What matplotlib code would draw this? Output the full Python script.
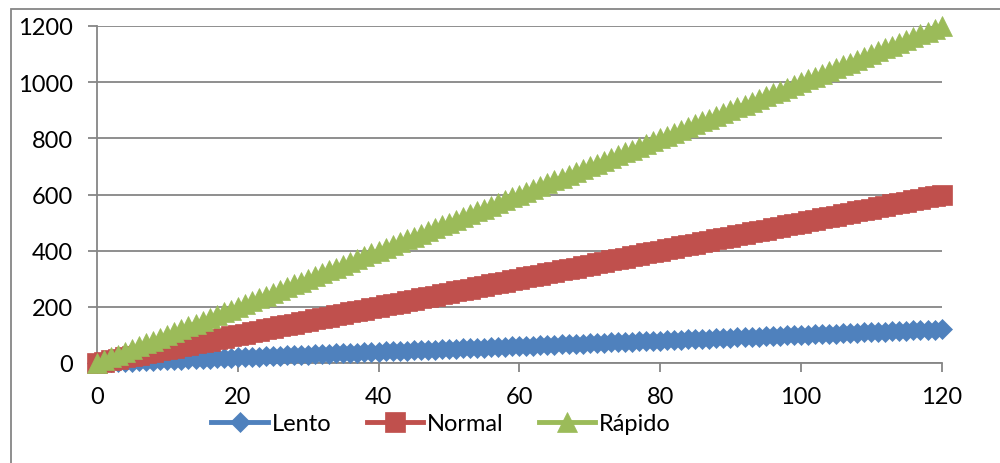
import matplotlib
matplotlib.use("Agg")
import matplotlib.pyplot as plt
from matplotlib.patches import Rectangle

plt.rcParams['font.family'] = ['Lato', 'DejaVu Sans']

minutos = [0,1,2,3,4,5,6,7,8,9,10,11,12,13,14,15,16,17,18,19,20,21,22,23,24,25,26,27,28,29,
           30,31,32,33,34,35,36,37,38,39,40,41,42,43,44,45,46,47,48,49,50,51,52,53,54,55,56,57,58,59,
           60,61,62,63,64,65,66,67,68,69,70,71,72,73,74,75,76,77,78,79,80,81,82,83,84,85,86,87,88,89,
           90,91,92,93,94,95,96,97,98,99,100,101,102,103,104,105,106,107,108,109,110,111,112,113,114,
           115,116,117,118,119,120]
lento = [0,1,2,3,4,5,6,7,8,9,10,11,12,13,14,15,16,17,18,19,20,21,22,23,24,25,26,27,28,29,
         30,31,32,33,34,35,36,37,38,39,40,41,42,43,44,45,46,47,48,49,50,51,52,53,54,55,56,57,58,59,
         60,61,62,63,64,65,66,67,68,69,70,71,72,73,74,75,76,77,78,79,80,81,82,83,84,85,86,87,88,89,
         90,91,92,93,94,95,96,97,98,99,100,101,102,103,104,105,106,107,108,109,110,111,112,113,114,
         115,116,117,118,119,120]
normal = [0,5,10,15,20,25,30,35,40,45,50,55,60,65,70,75,80,85,90,95,100,105,110,115,120,125,130,135,140,145,
          150,155,160,165,170,175,180,185,190,195,200,205,210,215,220,225,230,235,240,245,250,255,260,265,270,
          275,280,285,290,295,300,305,310,315,320,325,330,335,340,345,350,355,360,365,370,375,380,385,390,395,
          400,405,410,415,420,425,430,435,440,445,450,455,460,465,470,475,480,485,490,495,500,505,510,515,520,
          525,530,535,540,545,550,555,560,565,570,575,580,585,590,595,600]
rapido = [0,10,20,30,40,50,60,70,80,90,100,110,120,130,140,150,160,170,180,190,200,210,220,230,240,250,260,270,280,290,
          300,310,320,330,340,350,360,370,380,390,400,410,420,430,440,450,460,470,480,490,500,510,520,530,540,
          550,560,570,580,590,600,610,620,630,640,650,660,670,680,690,700,710,720,730,740,750,760,770,780,790,
          800,810,820,830,840,850,860,870,880,890,900,910,920,930,940,950,960,970,980,990,1000,1010,1020,1030,1040,
          1050,1060,1070,1080,1090,1100,1110,1120,1130,1140,1150,1160,1170,1180,1190,1200]
nombres = ["Lento", "Normal", "Rápido"]
x_ticks = [0, 20, 40, 60, 80, 100, 120]
y_ticks = [0, 200, 400, 600, 800, 1000, 1200]

colores = ["#4F81BD", "#C0504D", "#9BBB59"]
marcadores = ["D", "s", "^"]
tamanos = [10.2, 14.2, 14.5]

W, H = 1000, 464
fig = plt.figure(figsize=(W / 100, H / 100), dpi=100)
ax = fig.add_axes([97 / W, 1 - 364 / H, (941.6 - 97) / W, (364 - 27) / H])

grid_c = "#868686"
fig.patches.append(Rectangle((11 / W, -0.1), 1.2, 1 - 10 / H + 0.1, transform=fig.transFigure,
                             fill=False, edgecolor=grid_c, linewidth=1.3))

for serie, nom, c, m, ms in zip([lento, normal, rapido], nombres, colores, marcadores, tamanos):
    ax.plot(minutos, serie, color=c, linewidth=3.5, marker=m, markersize=ms,
            markerfacecolor=c, markeredgecolor=c, markeredgewidth=0.5,
            clip_on=False, label=nom, zorder=3)

ax.set_xlim(0, 120)
ax.set_ylim(0, 1200)
ax.set_xticks(x_ticks)
ax.set_yticks(y_ticks)
ax.yaxis.grid(True, color=grid_c, linewidth=1.3)
ax.set_axisbelow(True)
for s in ["top", "right"]:
    ax.spines[s].set_visible(False)
for s in ["left", "bottom"]:
    ax.spines[s].set_color(grid_c)
    ax.spines[s].set_linewidth(1.3)
ax.tick_params(axis="both", direction="out", length=6.5, width=1.3, color=grid_c,
               labelsize=17, labelcolor="black")
ax.tick_params(axis="y", pad=11)
ax.tick_params(axis="x", pad=10)

fig.legend(loc="center", bbox_to_anchor=(441 / W, 1 - 425 / H), ncol=3, frameon=False,
           fontsize=17, handlelength=2.4, handletextpad=0.15, columnspacing=1.5,
           numpoints=1, borderaxespad=0, borderpad=0)

fig.savefig("out.png", dpi=100)
